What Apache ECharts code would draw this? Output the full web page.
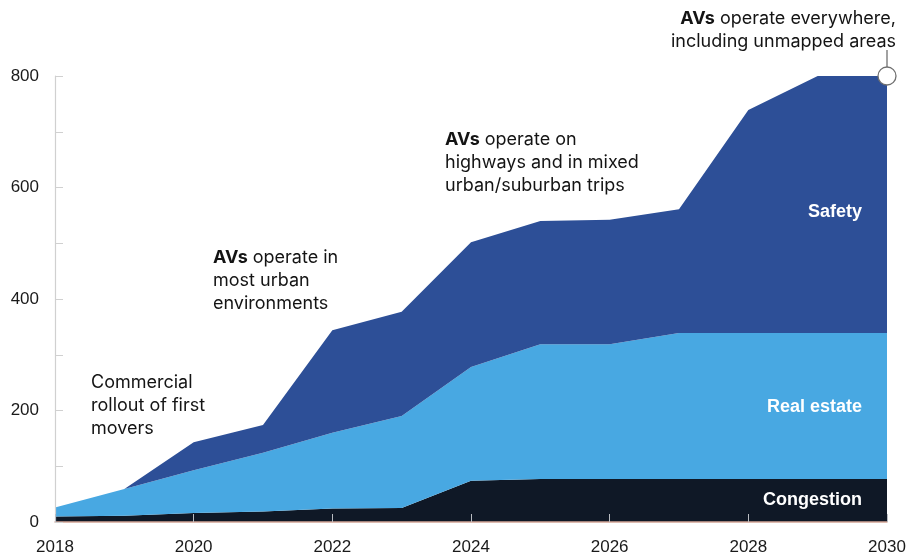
<!DOCTYPE html>
<html>
<head>
<meta charset="utf-8">
<script src="https://cdn.jsdelivr.net/npm/echarts@6/dist/echarts.min.js"></script>
<style>
  html, body { margin: 0; padding: 0; background: #fff; }
  #chart { width: 910px; height: 558px; }
</style>
</head>
<body>
<div id="chart"></div>
<script>
// Annual value by source, stacked from bottom to top
const years = ['2018', '2019', '2020', '2021', '2022', '2023', '2024', '2025', '2026', '2027', '2028', '2029', '2030'];
const congestion = [10, 11, 16, 19, 24, 25, 74, 77, 77, 77, 77, 77, 77];
const realEstate = [16, 48, 77, 105, 136, 165, 204, 242, 242, 262, 262, 262, 262];
const safety = [0, 0, 50, 50, 184, 187, 224, 221, 223, 222, 400, 461, 461];

const yTicks = [0, 200, 400, 600, 800];
const seriesNames = ['Congestion', 'Real estate', 'Safety'];

const FONT = '"Liberation Sans", Arial, sans-serif';
const NOTE_FONT = 'Inter, "Liberation Sans", Arial, sans-serif';

function areaSeries(name, vals, color) {
  return {
    name: name,
    type: 'line',
    stack: 'total',
    data: vals,
    showSymbol: false,
    symbol: 'none',
    lineStyle: { width: 0 },
    areaStyle: { color: color, opacity: 1 },
    itemStyle: { color: color },
    silent: true,
    z: 2
  };
}

const chart = echarts.init(document.getElementById('chart'), null, { renderer: 'canvas' });

const option = {
  animation: false,
  backgroundColor: '#ffffff',
  textStyle: { fontFamily: FONT },
  grid: { left: 55, right: 23, top: 76, bottom: 36, containLabel: false },
  xAxis: {
    type: 'category',
    data: years,
    boundaryGap: false,
    z: 10,
    axisLine: { show: true, lineStyle: { color: '#d4a596', width: 1.5 } },
    axisTick: { show: true, inside: true, length: 8, interval: 1, lineStyle: { color: '#b9bcc2', width: 1 } },
    axisLabel: {
      interval: 1,
      margin: 17,
      fontSize: 17,
      color: '#1a1a1a',
      fontFamily: FONT
    },
    splitLine: { show: false }
  },
  yAxis: {
    type: 'value',
    min: 0,
    max: 800,
    interval: 100,
    z: 10,
    axisLine: { show: true, lineStyle: { color: '#d0d0d0', width: 1.2 } },
    axisTick: { show: true, inside: true, length: 8, lineStyle: { color: '#d0d0d0', width: 1 } },
    axisLabel: {
      margin: 16,
      fontSize: 17,
      color: '#1a1a1a',
      fontFamily: FONT,
      formatter: v => (yTicks.indexOf(v) >= 0 ? String(v) : '')
    },
    splitLine: { show: false }
  },
  series: [
    areaSeries(seriesNames[0], congestion, '#0f1826'),
    areaSeries(seriesNames[1], realEstate, '#48a8e2'),
    areaSeries(seriesNames[2], safety, '#2d4f97'),
    {
      type: 'scatter',
      data: [['2030', 800]],
      symbol: 'circle',
      symbolSize: 18,
      clip: false,
      itemStyle: { color: '#ffffff', borderColor: '#707070', borderWidth: 1.3, opacity: 1 },
      silent: true,
      z: 20
    }
  ]
};

chart.setOption(option);

// Annotations and in-area series labels
const noteStyle = (text, align) => ({
  text: text,
  fontSize: 18,
  fontFamily: NOTE_FONT,
  fill: '#141414',
  lineHeight: 23,
  align: align || 'left',
  verticalAlign: 'top',
  rich: {
    b: { fontWeight: 'bold', fontSize: 18, fontFamily: NOTE_FONT, fill: '#141414', lineHeight: 23 }
  }
});

const labelStyle = (text) => ({
  text: text,
  fontSize: 18,
  fontWeight: 'bold',
  fontFamily: FONT,
  fill: '#ffffff',
  align: 'right',
  verticalAlign: 'middle'
});

const peakPx = chart.convertToPixel({ gridIndex: 0 }, ['2030', 800]);

chart.setOption({
  graphic: [
    { type: 'line', z: 15, shape: { x1: peakPx[0], y1: peakPx[1] - 9, x2: peakPx[0], y2: 50 },
      style: { stroke: '#707070', lineWidth: 1.3 } },
    { type: 'text', z: 20, x: 896, y: 7, style: noteStyle('{b|AVs} operate everywhere,\nincluding unmapped areas', 'right') },
    { type: 'text', z: 20, x: 445, y: 128, style: noteStyle('{b|AVs} operate on\nhighways and in mixed\nurban/suburban trips') },
    { type: 'text', z: 20, x: 213, y: 246, style: noteStyle('{b|AVs} operate in\nmost urban\nenvironments') },
    { type: 'text', z: 20, x: 91, y: 371, style: noteStyle('Commercial\nrollout of first\nmovers') },
    { type: 'text', z: 20, x: 862, y: 212, style: labelStyle('Safety') },
    { type: 'text', z: 20, x: 862, y: 407, style: labelStyle('Real estate') },
    { type: 'text', z: 20, x: 862, y: 500, style: labelStyle('Congestion') }
  ]
});
</script>
</body>
</html>
